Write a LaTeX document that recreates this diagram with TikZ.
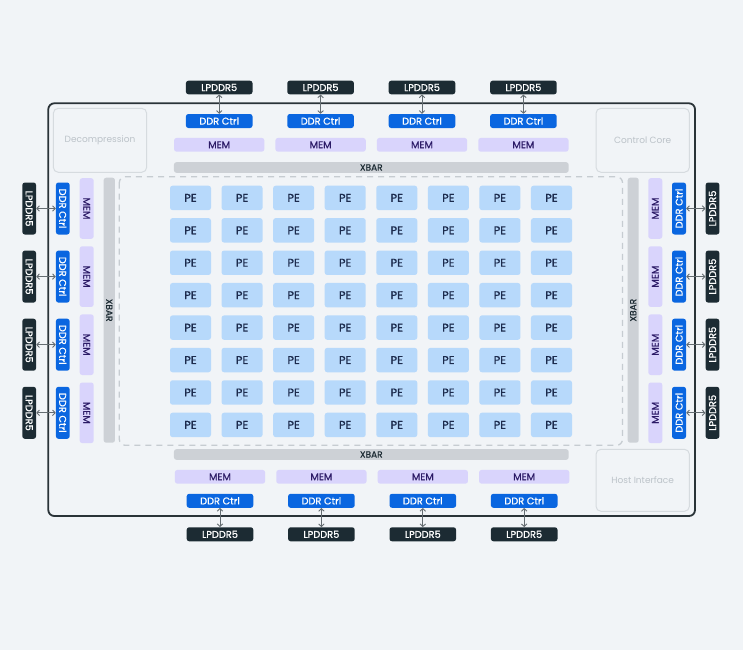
\documentclass[tikz,border=0pt]{standalone}
\usepackage{fontspec}
\setmainfont{Poppins}
\newfontfamily\labelfont{Poppins}[FakeBold=0.7]
\usetikzlibrary{positioning,arrows.meta}

\definecolor{pagebg}{HTML}{F1F4F7}
\definecolor{lpddrcol}{HTML}{1C2B33}
\definecolor{ddrcol}{HTML}{0A66E0}
\definecolor{memcol}{HTML}{D9D4FC}
\definecolor{memtext}{HTML}{2B1A66}
\definecolor{pecol}{HTML}{B7D9FB}
\definecolor{petext}{HTML}{1C2B4D}
\definecolor{xbarcol}{HTML}{CDD1D6}
\definecolor{chipline}{HTML}{2A3338}
\definecolor{dashcol}{HTML}{C6CCD1}
\definecolor{ghostline}{HTML}{D6DBDF}
\definecolor{ghosttext}{HTML}{BCC3C9}
\definecolor{linkcol}{HTML}{646C71}

\begin{document}
\begin{tikzpicture}
    [x=1pt, y=-1pt, font=\labelfont\fontsize{9.8}{11}\selectfont,
    box/.style={rounded corners=2.5pt, inner sep=0pt, align=center},
    lpddr/.style={box, fill=lpddrcol, text=white, minimum width=66.6pt, minimum height=13.6pt},
    ddr/.style={box, fill=ddrcol, text=white, minimum width=66.6pt, minimum height=14pt},
    mem/.style={box, fill=memcol, text=memtext, minimum width=90.3pt, minimum height=13.7pt},
    pe/.style={box, fill=pecol, text=petext, minimum width=41pt, minimum height=24.4pt,
        font=\labelfont\fontsize{11.3}{12}\selectfont},
    xbar/.style={box, fill=xbarcol, text=lpddrcol, minimum height=10.6pt, font=\labelfont\fontsize{9}{10}\selectfont},
    ghost/.style={rounded corners=5pt, draw=ghostline, line width=1pt, text=ghosttext,
        minimum width=93.4pt, minimum height=64pt, inner sep=0pt, font=\normalfont\fontsize{9}{10}\selectfont},
    link/.style={draw=linkcol, line width=0.9pt, {Straight Barb[length=2.6pt,width=5.5pt]}-{Straight Barb[length=2.6pt,width=5.5pt]}}]
    % page and chip outline
    \fill[pagebg] (0,0) rectangle (743,650);
    \useasboundingbox (0,0) rectangle (743,650);
    \draw[chipline, line width=1.8pt, rounded corners=6pt] (48.3,103.3) rectangle (695,516);
    \draw[dashcol, line width=1.3pt, dash pattern=on 6pt off 5pt, rounded corners=6pt]
        (119.3,176.7) rectangle (622.5,445.3);

    % corner blocks
    \node[ghost] (decomp) at (100,140.3) {Decompression};
    \node[ghost] (ctrl) at (642.7,140.3) {Control Core};
    \node[ghost, minimum height=62pt] (host) at (642.7,480.3) {Host Interface};

    % crossbars
    \node[xbar, minimum width=394.7pt] (xbarT) at (371.3,167.5) {XBAR};
    \node[xbar, minimum width=394.7pt] (xbarB) at (371.3,454.5) {XBAR};
    \node[xbar, minimum width=265pt, minimum height=11.3pt, rotate=-90] (xbarL) at (109.3,310.2) {XBAR};
    \node[xbar, minimum width=265pt, minimum height=11pt, rotate=90] (xbarR) at (633.2,310.2) {XBAR};

    % top and bottom channels
    \foreach \i in {0,...,3} {
        \pgfmathsetmacro\cx{219.2+101.4*\i}
        \node[lpddr] (lpT\i) at (\cx,87.5) {LPDDR5};
        \node[ddr] (ddrT\i) at (\cx,121) {DDR Ctrl};
        \node[mem] (memT\i) at (\cx,144.8) {MEM};
        \draw[link] (lpT\i) -- (ddrT\i);
        \pgfmathsetmacro\bx{220+101.4*\i}
        \node[mem] (memB\i) at (\bx,476.8) {MEM};
        \node[ddr] (ddrB\i) at (\bx,500.8) {DDR Ctrl};
        \node[lpddr, minimum height=14pt] (lpB\i) at (\bx,534.3) {LPDDR5};
        \draw[link] (ddrB\i) -- (lpB\i);
    }

    % left and right channels
    \foreach \j in {0,...,3} {
        \pgfmathsetmacro\cy{208.5+68.1*\j}
        \node[lpddr, minimum width=52pt, minimum height=13.7pt, rotate=-90] (lpL\j) at (29.2,\cy) {LPDDR5};
        \node[ddr, minimum width=52pt, minimum height=13.7pt, rotate=-90] (ddrL\j) at (62.8,\cy) {DDR Ctrl};
        \node[mem, minimum width=60.6pt, minimum height=14pt, rotate=-90] (memL\j) at (86.7,\cy) {MEM};
        \draw[link] (lpL\j) -- (ddrL\j);
        \node[mem, minimum width=60.6pt, minimum height=14pt, rotate=90] (memR\j) at (655.3,\cy) {MEM};
        \node[ddr, minimum width=52pt, minimum height=14pt, rotate=90] (ddrR\j) at (679,\cy) {DDR Ctrl};
        \node[lpddr, minimum width=52pt, minimum height=13.7pt, rotate=90] (lpR\j) at (712.5,\cy) {LPDDR5};
        \draw[link] (ddrR\j) -- (lpR\j);
    }

    % processing elements
    \foreach \r in {0,...,7} {
        \foreach \c in {0,...,7} {
            \node[pe] (pe\r\c) at ({190.5+51.57*\c},{197.9+32.43*\r}) {PE};
        }
    }
\end{tikzpicture}
\end{document}
